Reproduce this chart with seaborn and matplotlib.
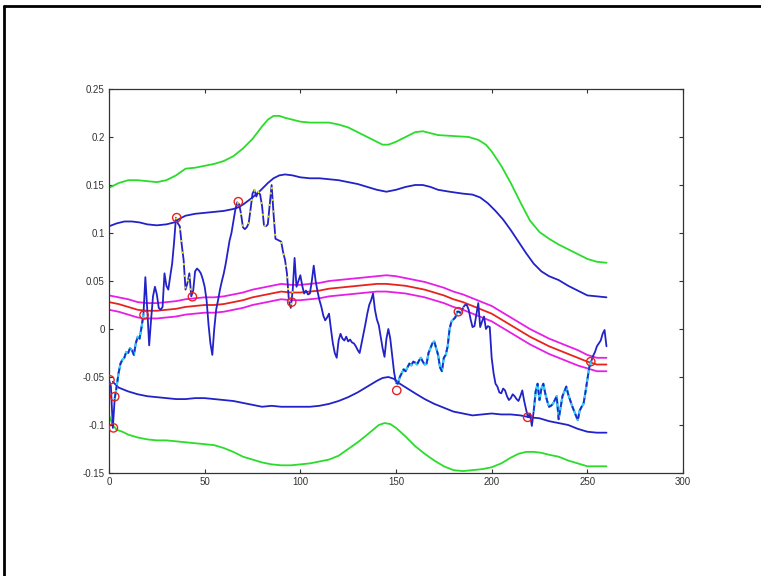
import numpy as np
import matplotlib
matplotlib.use("Agg")
import matplotlib.pyplot as plt
import seaborn as sns
from matplotlib.lines import Line2D
from matplotlib.ticker import FuncFormatter

# Kursverlauf, ein Wert je Tag (x = 0..260)
tag = np.arange(261)
kurs = [
    -0.053, -0.060, -0.103, -0.072, -0.060, -0.046, -0.036, -0.032, -0.030, -0.024,
    -0.025, -0.020, -0.022, -0.027, -0.015, -0.008, -0.010, 0.002, 0.015, 0.054,
    0.020, -0.017, 0.010, 0.034, 0.044, 0.036, 0.022, 0.020, 0.023, 0.058,
    0.045, 0.041, 0.055, 0.068, 0.090, 0.116, 0.110, 0.107, 0.088, 0.072,
    0.041, 0.048, 0.058, 0.034, 0.040, 0.060, 0.063, 0.061, 0.058, 0.052,
    0.044, 0.030, 0.005, -0.015, -0.027, 0.000, 0.020, 0.030, 0.041, 0.050,
    0.058, 0.068, 0.080, 0.092, 0.100, 0.112, 0.124, 0.132, 0.130, 0.120,
    0.106, 0.104, 0.106, 0.110, 0.125, 0.141, 0.145, 0.138, 0.143, 0.140,
    0.128, 0.108, 0.107, 0.109, 0.130, 0.150, 0.120, 0.094, 0.093, 0.092,
    0.091, 0.080, 0.072, 0.058, 0.030, 0.022, 0.040, 0.074, 0.044, 0.050,
    0.056, 0.045, 0.037, 0.040, 0.036, 0.037, 0.050, 0.066, 0.050, 0.039,
    0.030, 0.023, 0.014, 0.009, 0.012, 0.016, 0.000, -0.015, -0.025, -0.030,
    -0.012, -0.005, -0.010, -0.012, -0.008, -0.013, -0.011, -0.014, -0.015, -0.018,
    -0.022, -0.025, -0.015, -0.005, 0.005, 0.016, 0.025, 0.030, 0.037, 0.020,
    0.010, 0.004, -0.008, -0.020, -0.029, -0.010, 0.000, -0.010, -0.028, -0.045,
    -0.056, -0.057, -0.050, -0.046, -0.042, -0.044, -0.040, -0.036, -0.038, -0.034,
    -0.035, -0.037, -0.033, -0.030, -0.034, -0.037, -0.036, -0.025, -0.020, -0.015,
    -0.013, -0.020, -0.027, -0.040, -0.044, -0.030, -0.027, -0.018, 0.000, 0.008,
    0.010, 0.012, 0.018, 0.018, 0.016, 0.022, 0.025, 0.025, 0.020, 0.010,
    0.002, 0.003, 0.015, 0.027, 0.002, 0.008, 0.013, 0.000, 0.003, 0.002,
    -0.030, -0.046, -0.057, -0.060, -0.066, -0.067, -0.062, -0.064, -0.070, -0.074,
    -0.072, -0.068, -0.070, -0.073, -0.075, -0.070, -0.064, -0.075, -0.084, -0.092,
    -0.088, -0.101, -0.085, -0.065, -0.057, -0.074, -0.062, -0.057, -0.067, -0.075,
    -0.081, -0.080, -0.078, -0.074, -0.070, -0.094, -0.082, -0.070, -0.065, -0.060,
    -0.068, -0.074, -0.080, -0.085, -0.090, -0.095, -0.085, -0.081, -0.078, -0.066,
    -0.053, -0.040, -0.034, -0.028, -0.024, -0.018, -0.015, -0.012, -0.005, -0.001,
    -0.018,
]

# aeusseres Band oben (gruen)
gruen_oben_x = [0, 5, 10, 15, 20, 25, 30, 35, 40, 45, 50, 55, 60, 65, 70, 75, 80, 83, 86,
                89, 92, 96, 100, 105, 110, 115, 120, 125, 130, 135, 140, 143, 146, 150, 155,
                160, 164, 168, 172, 180, 188, 193, 197, 200, 205, 210, 215, 220, 225, 230,
                235, 240, 245, 250, 255, 260]
gruen_oben = [0.147, 0.152, 0.155, 0.155, 0.154, 0.153, 0.155, 0.160, 0.167, 0.168, 0.170,
              0.172, 0.175, 0.180, 0.188, 0.198, 0.211, 0.218, 0.222, 0.222, 0.220, 0.218,
              0.216, 0.215, 0.215, 0.215, 0.213, 0.210, 0.205, 0.200, 0.195, 0.192, 0.192,
              0.195, 0.200, 0.205, 0.206, 0.204, 0.202, 0.201, 0.200, 0.197, 0.192, 0.185,
              0.170, 0.152, 0.132, 0.113, 0.101, 0.094, 0.088, 0.083, 0.078, 0.073, 0.070,
              0.069]

# inneres Band oben (blau)
blau_oben_x = [0, 4, 8, 12, 16, 20, 25, 30, 34, 37, 40, 45, 50, 55, 60, 65, 68, 71, 75, 79,
               83, 86, 89, 92, 96, 100, 105, 110, 115, 120, 125, 130, 135, 140, 145, 150,
               155, 160, 164, 168, 172, 178, 185, 190, 194, 198, 202, 206, 210, 214, 218,
               222, 226, 230, 235, 240, 245, 250, 255, 260]
blau_oben = [0.107, 0.110, 0.112, 0.112, 0.111, 0.109, 0.108, 0.109, 0.111, 0.115, 0.118,
             0.120, 0.121, 0.122, 0.123, 0.125, 0.127, 0.131, 0.137, 0.144, 0.152, 0.157,
             0.160, 0.161, 0.160, 0.158, 0.157, 0.157, 0.156, 0.155, 0.153, 0.151, 0.148,
             0.145, 0.143, 0.145, 0.148, 0.150, 0.150, 0.148, 0.145, 0.143, 0.141, 0.140,
             0.137, 0.131, 0.123, 0.114, 0.103, 0.091, 0.079, 0.068, 0.060, 0.055, 0.051,
             0.045, 0.040, 0.035, 0.034, 0.033]

# Mittellinie (rot) mit Rand (magenta), Stuetzstellen alle 5 Tage
mitte_x = list(range(0, 261, 5))
mitte = [0.028, 0.026, 0.023, 0.020, 0.019, 0.019, 0.020, 0.021, 0.023, 0.024,
         0.025, 0.025, 0.026, 0.028, 0.030, 0.033, 0.035, 0.037, 0.039, 0.038,
         0.038, 0.039, 0.040, 0.042, 0.043, 0.044, 0.045, 0.046, 0.047, 0.047,
         0.046, 0.045, 0.043, 0.041, 0.038, 0.035, 0.031, 0.028, 0.024, 0.020,
         0.016, 0.010, 0.004, -0.002, -0.008, -0.013, -0.018, -0.022, -0.026, -0.030,
         -0.034, -0.037, -0.037]
rand_oben = [0.035, 0.033, 0.031, 0.028, 0.027, 0.027, 0.028, 0.029, 0.031, 0.032,
             0.033, 0.033, 0.034, 0.036, 0.038, 0.041, 0.043, 0.045, 0.047, 0.046,
             0.046, 0.047, 0.048, 0.050, 0.051, 0.052, 0.053, 0.054, 0.055, 0.056,
             0.055, 0.053, 0.051, 0.049, 0.046, 0.043, 0.039, 0.036, 0.032, 0.028,
             0.024, 0.018, 0.012, 0.006, 0.000, -0.005, -0.010, -0.014, -0.018, -0.022,
             -0.027, -0.030, -0.030]
rand_unten = [0.020, 0.018, 0.015, 0.012, 0.011, 0.011, 0.012, 0.013, 0.015, 0.016,
              0.017, 0.017, 0.018, 0.020, 0.022, 0.025, 0.027, 0.029, 0.031, 0.030,
              0.030, 0.031, 0.032, 0.034, 0.035, 0.036, 0.037, 0.038, 0.039, 0.039,
              0.038, 0.037, 0.035, 0.033, 0.030, 0.027, 0.023, 0.020, 0.016, 0.012,
              0.008, 0.002, -0.004, -0.010, -0.016, -0.021, -0.026, -0.030, -0.034, -0.038,
              -0.041, -0.044, -0.044]

# inneres Band unten (blau)
blau_unten_x = [2, 5, 10, 15, 20, 25, 30, 35, 40, 45, 50, 55, 60, 65, 70, 75, 80, 85, 90,
                95, 100, 105, 110, 115, 120, 125, 130, 135, 140, 143, 146, 149, 152, 156,
                160, 165, 170, 175, 180, 185, 190, 195, 200, 205, 210, 215, 220, 225, 230,
                235, 240, 245, 250, 255, 260]
blau_unten = [-0.055, -0.061, -0.065, -0.068, -0.070, -0.071, -0.072, -0.073, -0.073, -0.072,
              -0.072, -0.073, -0.074, -0.075, -0.077, -0.079, -0.081, -0.080, -0.081, -0.081,
              -0.081, -0.081, -0.080, -0.078, -0.075, -0.071, -0.066, -0.060, -0.054, -0.051,
              -0.050, -0.052, -0.057, -0.062, -0.067, -0.073, -0.078, -0.082, -0.086, -0.088,
              -0.090, -0.089, -0.088, -0.089, -0.089, -0.090, -0.092, -0.093, -0.096, -0.098,
              -0.100, -0.104, -0.107, -0.108, -0.108]

# aeusseres Band unten (gruen)
gruen_unten_x = [0, 2, 4, 7, 10, 15, 20, 25, 30, 35, 40, 45, 50, 55, 60, 65, 70, 75, 80, 85,
                 90, 95, 100, 105, 110, 115, 120, 125, 130, 135, 138, 141, 144, 147, 150,
                 155, 160, 165, 170, 175, 180, 185, 190, 195, 200, 205, 210, 214, 218, 222,
                 226, 230, 235, 240, 245, 250, 255, 260]
gruen_unten = [-0.090, -0.100, -0.105, -0.107, -0.110, -0.113, -0.115, -0.116, -0.116, -0.117,
               -0.118, -0.119, -0.120, -0.121, -0.124, -0.128, -0.133, -0.136, -0.139, -0.141,
               -0.142, -0.142, -0.141, -0.140, -0.138, -0.136, -0.132, -0.125, -0.118, -0.110,
               -0.105, -0.100, -0.098, -0.099, -0.103, -0.112, -0.122, -0.130, -0.137, -0.143,
               -0.147, -0.148, -0.147, -0.146, -0.144, -0.140, -0.134, -0.130, -0.128, -0.128,
               -0.129, -0.131, -0.133, -0.137, -0.140, -0.143, -0.143, -0.143]

# markierte Punkte (rote Kreise)
kreis_x = [0.5, 2.3, 3.0, 18.3, 35.4, 43.6, 67.6, 95.5, 150.4, 182.6, 218.8, 251.8]
kreis_y = [-0.053, -0.103, -0.0705, 0.0146, 0.116, 0.0336, 0.1326, 0.028, -0.064, 0.018,
           -0.092, -0.034]

# Abschnitte mit hellblauer bzw. gelber Ueberlagerung
steigend = [(3, 19), (150, 186), (222, 253)]
fallend = [(35, 44), (67, 97)]

sns.set_theme(style="ticks")
plt.rcParams["font.family"] = ["Liberation Sans", "DejaVu Sans"]
plt.rcParams["axes.unicode_minus"] = False
plt.rcParams["lines.solid_joinstyle"] = "round"

fig = plt.figure(figsize=(7.61, 5.76), dpi=100)
ax = fig.add_axes([109 / 761, 103 / 576, 574 / 761, 384 / 576])

lw = 1.3
kw = dict(estimator=None, sort=False, ax=ax, linewidth=lw, legend=False)
sns.lineplot(x=gruen_oben_x, y=gruen_oben, color="#2bdc2b", **kw)
sns.lineplot(x=gruen_unten_x, y=gruen_unten, color="#2bdc2b", **kw)
sns.lineplot(x=blau_oben_x, y=blau_oben, color="#2222c8", **kw)
sns.lineplot(x=blau_unten_x, y=blau_unten, color="#2222c8", **kw)
sns.lineplot(x=mitte_x, y=rand_oben, color="#e61ee6", **kw)
sns.lineplot(x=mitte_x, y=rand_unten, color="#e61ee6", **kw)
sns.lineplot(x=mitte_x, y=mitte, color="#e8231e", **kw)

kurs = np.array(kurs)
sns.lineplot(x=tag, y=kurs, color="#2222c8", **kw)
for a, b in steigend:
    sns.lineplot(x=tag[a:b], y=kurs[a:b], color="#33d0f5", ax=ax, linewidth=1.6,
                 estimator=None, sort=False, legend=False)
    sns.lineplot(x=tag[a:b], y=kurs[a:b], color="#2222c8", ax=ax, linewidth=1.2,
                 estimator=None, sort=False, legend=False, linestyle=(0, (3, 2)))
for a, b in fallend:
    sns.lineplot(x=tag[a:b], y=kurs[a:b], color="#e8e81a", ax=ax, linewidth=1.4,
                 estimator=None, sort=False, legend=False, linestyle=(0, (1, 5)))

sns.scatterplot(x=kreis_x, y=kreis_y, ax=ax, marker="o", s=36, facecolor="none",
                edgecolor="#e8231e", linewidth=1.0, zorder=5, legend=False)

ax.set_xlim(0, 300)
ax.set_ylim(-0.15, 0.25)
ax.set_xticks(np.arange(0, 301, 50))
ax.set_yticks(np.arange(-0.15, 0.2501, 0.05))
ax.yaxis.set_major_formatter(FuncFormatter(lambda v, p: "%g" % round(v, 2)))
ax.tick_params(direction="in", top=True, right=True, length=3, width=0.8,
               labelsize=7, colors="#333333", pad=3)
for s in ax.spines.values():
    s.set_linewidth(0.9)
    s.set_color("#333333")
ax.set_xlabel("")
ax.set_ylabel("")

# Rahmen um die Abbildung (nur oben und links sichtbar)
oben = 1 - 6 / 576
links = 4 / 761
fig.add_artist(Line2D([links, 1], [oben, oben], transform=fig.transFigure,
                      color="black", linewidth=2))
fig.add_artist(Line2D([links, links], [0, oben], transform=fig.transFigure,
                      color="black", linewidth=2))

fig.savefig("out.png", dpi=100)
